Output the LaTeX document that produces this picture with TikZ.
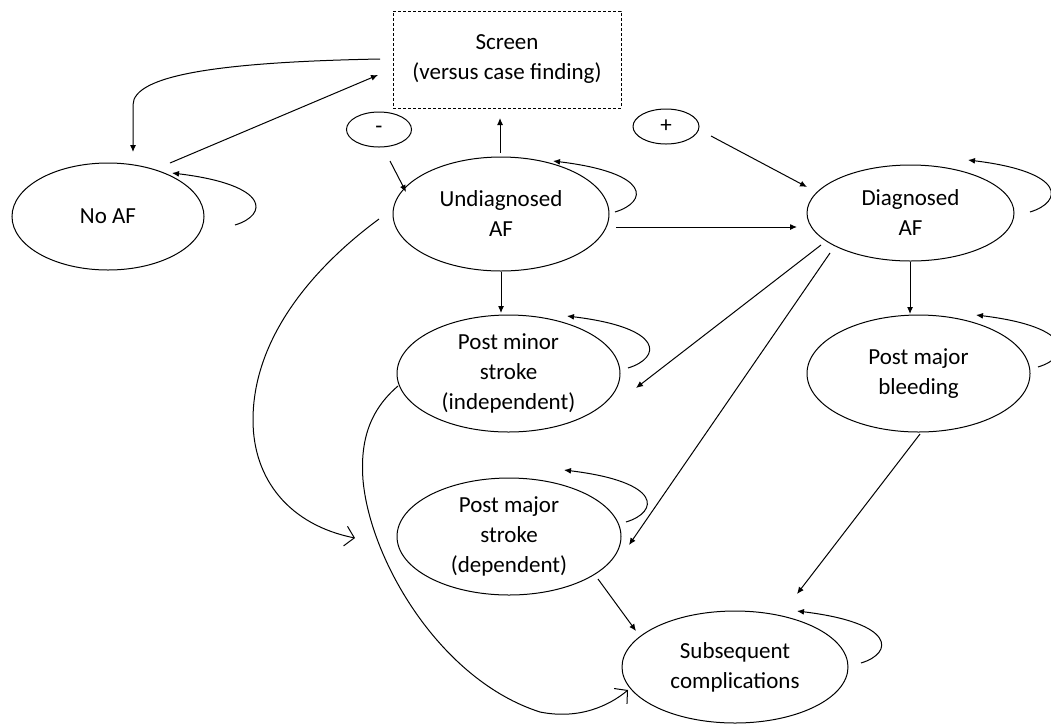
\documentclass[tikz,border=0pt]{standalone}
\usepackage{fontspec}
\setmainfont{Carlito}
\usetikzlibrary{arrows.meta,calc,shapes.geometric}
\begin{document}
\begin{tikzpicture}[x=1pt,y=-1pt,
  every node/.style={font=\fontsize{23}{30}\selectfont, align=center, inner sep=0pt},
  state/.style={draw, ellipse, line width=1pt},
  signbox/.style={draw, ellipse, line width=1pt},
  screenbox/.style={draw, dashed, dash pattern=on 3pt off 2pt, line width=0.9pt},
  conn/.style={line width=1pt, -{Latex[length=7pt,width=6pt]}},
  openconn/.style={line width=1pt, -{Straight Barb[length=9pt,width=20pt]}},
  selfloop/.style={line width=1pt, -{Latex[length=7pt,width=6pt]}}
]
\useasboundingbox (0,0) rectangle (1051,724);

% nodes
\node[screenbox, minimum width=228pt, minimum height=97pt] (screen) at (507,59.5) {Screen\\(versus case finding)};
\node[signbox, minimum width=65pt, minimum height=35pt] (minus) at (379,129.5) {-};
\node[signbox, minimum width=66pt, minimum height=35pt] (plus) at (666,126.5) {+};
\node[state, minimum width=192pt, minimum height=107pt] (noaf) at (108,216.5) {No AF};
\node[state, minimum width=216pt, minimum height=114pt] (undiag) at (501,214) {Undiagnosed\\AF};
\node[state, minimum width=207pt, minimum height=96pt] (diag) at (910.5,213) {Diagnosed\\AF};
\node[state, minimum width=223pt, minimum height=117pt] (minor) at (508.5,373.5) {Post minor\\stroke\\(independent)};
\node[state, minimum width=223pt, minimum height=117pt] (bleed) at (918.5,373.5) {Post major\\bleeding};
\node[state, minimum width=224pt, minimum height=117pt] (major) at (509,536.5) {Post major\\stroke\\(dependent)};
\node[state, minimum width=226pt, minimum height=112pt] (subseq) at (735,667) {Subsequent\\complications};

% straight connectors
\draw[conn] ($(noaf)+(62,-53.5)$) -- ($(screen)+(-129,15.5)$);
\draw[conn] ($(screen)+(-127,-0.5)$) .. controls (220,62) and (133,75) .. (133,105) -- ($(noaf)+(25,-64.5)$);
\draw[conn] ($(minus)+(11,31.5)$) -- ($(undiag)+(-95,-22)$);
\draw[conn] ($(undiag)+(-1,-61)$) -- ($(screen)+(-7,58.5)$);
\draw[conn] ($(plus)+(45,9.5)$) -- ($(diag)+(-103.5,-26)$);
\draw[conn] ($(undiag)+(115,13)$) -- ($(diag)+(-113.5,14)$);
\draw[conn] ($(diag)+(-89.5,32)$) -- ($(minor)+(127.5,14.5)$);
\draw[conn] ($(diag)+(-80.5,40)$) -- ($(major)+(120,8.5)$);
\draw[conn] ($(undiag)+(0,58)$) -- ($(minor)+(-7.5,-60.5)$);
\draw[conn] ($(diag)+(-0.5,49)$) -- ($(bleed)+(-8.5,-59.5)$);
\draw[conn] ($(major)+(89,42.5)$) -- ($(subseq)+(-99,-36)$);
\draw[conn] ($(bleed)+(1.5,60.5)$) -- ($(subseq)+(62,-73)$);

% long curved connectors
\draw[openconn] ($(undiag)+(-122,5)$) .. controls (310,270) and (253,340) .. (253,420)
   .. controls (253,480) and (290,525) .. ($(major)+(-154,1.5)$);
\draw[openconn] ($(minor)+(-110.5,12.5)$) .. controls (370,410) and (360,440) .. (363,480)
   .. controls (370,560) and (440,680) .. (540,712)
   .. controls (580,720) and (610,705) .. ($(subseq)+(-107,23)$);

% self loops
\draw[selfloop] ($(noaf)+(127,8.5)$) .. controls +(33,-10) and +(99,12) .. ($(noaf)+(64,-43.5)$);
\draw[selfloop] ($(undiag)+(114,-2)$) .. controls +(33,-10) and +(99,12) .. ($(undiag)+(52,-53)$);
\draw[selfloop] ($(diag)+(119.5,-1)$) .. controls +(33,-10) and +(99,12) .. ($(diag)+(57.5,-53)$);
\draw[selfloop] ($(minor)+(119.5,-5.5)$) .. controls +(33,-10) and +(99,12) .. ($(minor)+(58.5,-57.5)$);
\draw[selfloop] ($(major)+(117,-14.5)$) .. controls +(33,-10) and +(99,12) .. ($(major)+(55,-66.5)$);
\draw[selfloop] ($(bleed)+(119.5,-6.5)$) .. controls +(33,-10) and +(99,12) .. ($(bleed)+(57.5,-58.5)$);
\draw[selfloop] ($(subseq)+(126,-4)$) .. controls +(33,-10) and +(99,12) .. ($(subseq)+(62,-56)$);
\end{tikzpicture}
\end{document}
